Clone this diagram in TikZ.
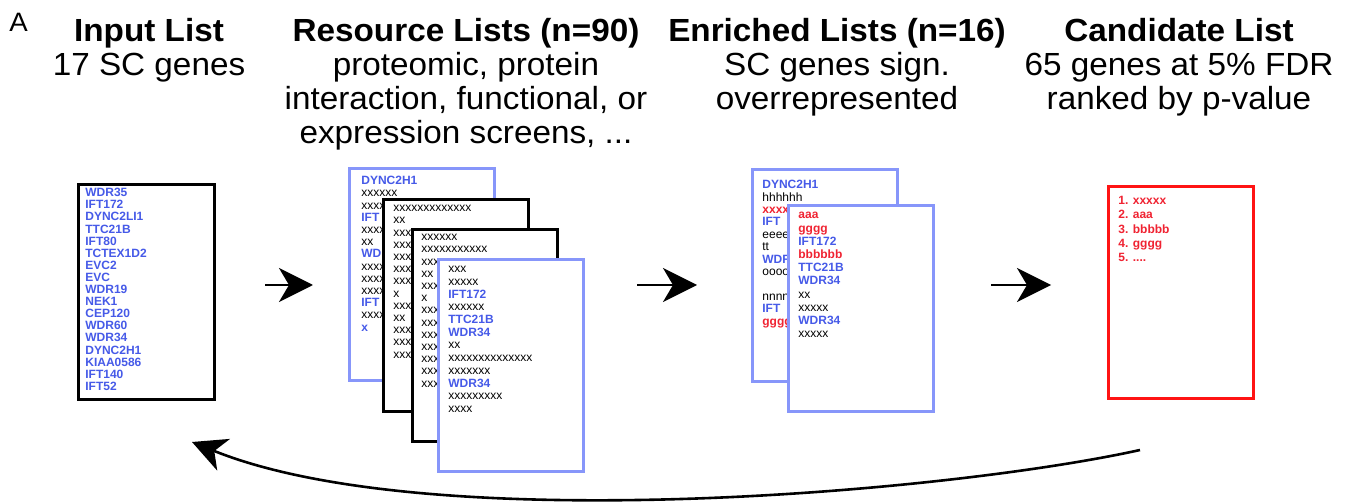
\documentclass[tikz,border=0pt]{standalone}
\usepackage{fontspec}
\setmainfont{Liberation Sans}
\newfontfamily\headfont{Liberation Sans}[FakeStretch=1.04]
\usetikzlibrary{arrows.meta}

\definecolor{listblue}{RGB}{70,90,232}
\definecolor{pageblue}{RGB}{135,150,250}
\definecolor{listred}{RGB}{240,35,50}
\definecolor{boxred}{RGB}{255,20,20}

\newcommand{\bgene}[1]{\textcolor{listblue}{\textbf{#1}}}
\newcommand{\rgene}[1]{\textcolor{listred}{\textbf{#1}}}

\tikzset{
  head/.style={align=center, inner sep=0pt, anchor=north,
    font=\headfont\fontsize{16}{17}\selectfont},
  page/.style={draw, line width=1.5pt, fill=white, minimum width=72.5pt,
    minimum height=106pt, anchor=north west, inner sep=0pt},
  bluepage/.style={page, draw=pageblue},
  listtxt/.style={align=left, inner sep=0pt, anchor=north west,
    font=\fontsize{6}{6.1}\selectfont, execute at begin node={\vphantom{X}}},
  flow/.style={line width=1.3pt, -{Stealth[length=17pt,width=17pt,inset=5pt]}},
}

\begin{document}
\begin{tikzpicture}[x=0.5pt, y=-0.5pt]
\useasboundingbox (0,0) rectangle (1355,502);

% titles
\node[inner sep=0pt, anchor=north west, font=\headfont\fontsize{13.3}{13.3}\selectfont] (panel) at (9,13) {A};
\node[head] (h1) at (149,18) {\textbf{Input List}\\17 SC genes};
\node[head] (h2) at (466,18) {\textbf{Resource Lists (n=90)}\\proteomic, protein\\interaction, functional, or\\expression screens, ...};
\node[head] (h3) at (837,18) {\textbf{Enriched Lists (n=16)}\\SC genes sign.\\overrepresented};
\node[head] (h4) at (1179,18) {\textbf{Candidate List}\\65 genes at 5\% FDR\\ranked by p-value};

% input list
\node[page, line width=1.7pt, minimum width=68pt, minimum height=107.5pt] (inlist) at (77,183) {};
\node[listtxt, text=listblue, font=\fontsize{6}{6.05}\selectfont\bfseries] (intxt) at ([shift={(8,5)}]inlist.north west)
  {WDR35\\IFT172\\DYNC2LI1\\TTC21B\\IFT80\\TCTEX1D2\\EVC2\\EVC\\WDR19\\NEK1\\CEP120\\WDR60\\WDR34\\DYNC2H1\\KIAA0586\\IFT140\\IFT52};

% resource lists
\node[bluepage] (res1) at (348,167) {};
\node[listtxt] (res1txt) at ([shift={(13,9)}]res1.north west)
  {\bgene{DYNC2H1}\\xxxxxx\\xxxx\\\bgene{IFT}\\xxxx\\xx\\\bgene{WDR}\\xxxx\\xxxx\\xxxx\\\bgene{IFT}\\xxxx\\\bgene{x}};
\node[page] (res2) at ([shift={(34,31)}]res1.north west) {};
\node[listtxt] (res2txt) at ([shift={(11,7)}]res2.north west)
  {xxxxxxxxxxxxx\\xx\\xxx\\xxx\\xxx\\xxx\\xxx\\x\\xxx\\xx\\xxx\\xxx\\xxx};
\node[page] (res3) at ([shift={(29,30)}]res2.north west) {};
\node[listtxt] (res3txt) at ([shift={(10,6)}]res3.north west)
  {xxxxxx\\xxxxxxxxxxx\\xxx\\xx\\xxx\\x\\xxx\\xxx\\xxx\\xxx\\xxx\\xxx\\xxx};
\node[bluepage] (res4) at ([shift={(26,30)}]res3.north west) {};
\node[listtxt, font=\fontsize{6}{6.35}\selectfont] (res4txt) at ([shift={(11,8)}]res4.north west)
  {xxx\\xxxxx\\\bgene{IFT172}\\xxxxxx\\\bgene{TTC21B}\\\bgene{WDR34}\\xx\\xxxxxxxxxxxxxx\\xxxxxxx\\\bgene{WDR34}\\xxxxxxxxx\\xxxx};

% enriched lists
\node[bluepage] (enr1) at (751,168) {};
\node[listtxt, font=\fontsize{6}{6.2}\selectfont] (enr1txt) at ([shift={(11,12)}]enr1.north west)
  {\bgene{DYNC2H1}\\hhhhhh\\\rgene{xxxx}\\\bgene{IFT}\\eeee\\tt\\\bgene{WDR}\\oooo\\\mbox{}\\nnnn\\\bgene{IFT}\\\rgene{gggg}};
\node[bluepage, minimum height=103pt] (enr2) at ([shift={(36,36)}]enr1.north west) {};
\node[listtxt, font=\fontsize{6}{6.6}\selectfont] (enr2txt) at ([shift={(11,8)}]enr2.north west)
  {\rgene{aaa}\\\rgene{gggg}\\\bgene{IFT172}\\\rgene{bbbbbb}\\\bgene{TTC21B}\\\bgene{WDR34}\\xx\\xxxxx\\\bgene{WDR34}\\xxxxx};

% candidate list
\node[page, draw=boxred] (cand) at (1107,185) {};
\node[listtxt, text=listred, font=\fontsize{6}{7.1}\selectfont\bfseries] (candtxt) at ([shift={(11,11)}]cand.north west)
  {1. xxxxx\\2. aaa\\3. bbbbb\\4. gggg\\5. ....};

% arrows
\coordinate (row) at (0,285);
\draw[flow, shorten <=24.5pt, shorten >=17.5pt] (row -| inlist.east) -- (row -| res1.west);
\draw[flow, shorten <=26pt, shorten >=27pt] (row -| res4.east) -- (row -| enr1.west);
\draw[flow, shorten <=28pt, shorten >=28pt] (row -| enr2.east) -- (row -| cand.west);

% back to the input list
\coordinate (loopstart) at (1140,450);
\coordinate (looptip) at (192,442);
\draw[flow] (loopstart) .. controls (950,492) and (430,538) .. (looptip);
\end{tikzpicture}
\end{document}
